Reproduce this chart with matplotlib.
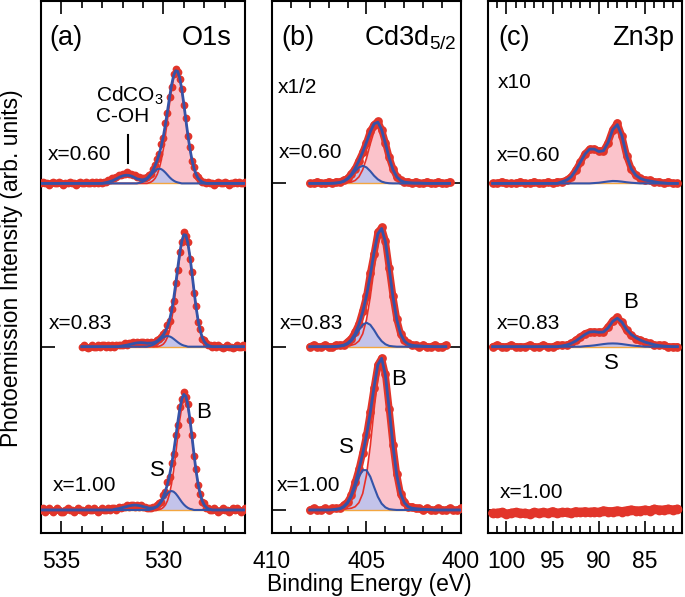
import numpy as np
import matplotlib
matplotlib.use("Agg")
import matplotlib.pyplot as plt
from matplotlib.ticker import MultipleLocator

plt.rcParams['font.family'] = ['Liberation Sans', 'DejaVu Sans']
plt.rcParams['mathtext.fontset'] = 'custom'
plt.rcParams['mathtext.rm'] = 'Liberation Sans'

# energy grids (eV)
E_a = np.round(np.arange(536.0, 525.95, -0.1), 2)
E_b = np.round(np.arange(408.0, 399.95, -0.2), 2)
E_c = np.round(np.arange(101.5, 81.45, -0.5), 2)

# ---- O1s ----
o1s_100 = [0.00, 0.01, -0.01, 0.00, 0.01, 0.00, -0.01, 0.00, 0.01, 0.00,
           -0.01, -0.01, 0.00, 0.01, 0.00, 0.00, -0.01, 0.00, 0.01, 0.00,
           0.00, -0.01, 0.00, 0.01, 0.00, 0.00, 0.01, 0.00, -0.01, 0.00,
           0.01, 0.00, 0.00, 0.01, 0.00, 0.01,
           0.01, 0.00, 0.02, 0.01, 0.02, 0.02, 0.03, 0.02, 0.03, 0.03, 0.02, 0.03, 0.02, 0.03, 0.02, 0.02, 0.01, 0.01,
           0.01, 0.02, 0.02, 0.03, 0.04, 0.05, 0.09, 0.11, 0.17, 0.20, 0.29, 0.34, 0.46, 0.52, 0.63,
           0.68, 0.72, 0.69, 0.65, 0.55, 0.46, 0.33, 0.25, 0.15, 0.10, 0.05, 0.04, 0.01, 0.01, 0.00,
           0.00, 0.01, 0.00, -0.01, 0.00, 0.01, 0.00, 0.00, -0.01, 0.00, 0.01, 0.00, 0.01, 0.00, -0.01, 0.00, 0.01]
o1s_100_B = [0] * 58 + [.003, .007, .016, .031, .057, .099, .160, .241, .340, .447, .549, .630, .674,
                        .674, .630, .549, .447, .340, .241, .160, .099, .057, .031, .016, .007, .003] + [0] * 17
o1s_100_S = [0] * 54 + [.004, .007, .013, .022, .034, .049, .067, .085, .101, .112, .116,
                        .112, .101, .085, .067, .049, .034, .022, .013, .007, .004] + [0] * 26
o1s_100_C = [0] * 36 + [.004, .006, .008, .011, .015, .018, .021, .025, .027, .029, .030,
                        .029, .027, .025, .021, .018, .015, .011, .008, .006, .004] + [0] * 44

o1s_083 = [0.00, 0.01, 0.00, -0.01, 0.00, 0.01, 0.00, 0.00, 0.01, 0.00,
           0.01, 0.01, 0.00, 0.01, 0.00, 0.01, 0.00, 0.01, 0.01,
           0.01, 0.01, 0.02, 0.01, 0.02, 0.02, 0.03, 0.02, 0.03, 0.02,
           0.03, 0.03, 0.02, 0.03, 0.02, 0.03, 0.02, 0.03, 0.04,
           0.05, 0.06, 0.08, 0.09, 0.13, 0.16, 0.23, 0.28, 0.39, 0.47, 0.58, 0.64, 0.70,
           0.68, 0.64, 0.54, 0.46, 0.33, 0.25, 0.15, 0.11, 0.05, 0.04, 0.02, 0.01, 0.01,
           0.00, 0.01, 0.00, 0.01, 0.00, -0.01, 0.00, 0.01, 0.00, 0.00, -0.01, 0.00, 0.01, 0.00, 0.00, 0.01, 0.00]
o1s_083_B = [0] * 58 + [.003, .008, .016, .032, .058, .100, .161, .243, .343, .451, .553, .634, .679,
                        .679, .634, .553, .451, .343, .243, .161, .100, .058, .032, .016, .008, .003] + [0] * 17
o1s_083_S = [0] * 53 + [.004, .007, .012, .019, .028, .038, .048, .057, .063, .065,
                        .063, .057, .048, .038, .028, .019, .012, .007, .004] + [0] * 29
o1s_083_C = [0] * 39 + [.003, .005, .007, .009, .012, .015, .018, .021, .023, .024, .025,
                        .024, .023, .021, .018, .015, .012, .009, .007, .005, .003] + [0] * 41

o1s_060 = [0.00, 0.01, 0.00, 0.00, -0.01, 0.00, 0.01, 0.00, 0.00, 0.01,
           0.00, -0.01, 0.00, 0.00, 0.01, 0.00, 0.00, -0.01, 0.00, 0.01,
           0.00, 0.00, 0.01, 0.00, 0.00, 0.01, 0.00, 0.01, 0.00, 0.01, 0.00,
           0.01, 0.01, 0.02, 0.02, 0.03, 0.03, 0.04, 0.05, 0.05, 0.06, 0.06,
           0.07, 0.06, 0.06, 0.05, 0.05, 0.04, 0.04, 0.03, 0.03, 0.03, 0.04,
           0.05, 0.06, 0.09, 0.11, 0.15, 0.18, 0.24, 0.28, 0.37, 0.43, 0.53, 0.59, 0.67, 0.70,
           0.68, 0.64, 0.58, 0.48, 0.40, 0.29, 0.22, 0.14, 0.10, 0.05, 0.04, 0.02, 0.01, 0.01,
           0.00, 0.01, 0.00, 0.00, -0.01, 0.00, 0.01, 0.00, 0.00, 0.01,
           0.00, -0.01, 0.00, 0.00, 0.01, 0.00, 0.01, 0.00, 0.00, 0.01]
o1s_060_B = [0] * 53 + [.004, .009, .018, .032, .056, .092, .144, .212, .296, .390, .488, .576, .643, .680,
                        .680, .643, .576, .488, .390, .296, .212, .144, .092, .056, .032, .018, .009, .004] + [0] * 20
o1s_060_S = [0] * 48 + [.003, .006, .010, .017, .026, .038, .052, .066, .078, .087, .090,
                        .087, .078, .066, .052, .038, .026, .017, .010, .006, .003] + [0] * 32
o1s_060_C = [0] * 31 + [.003, .005, .008, .012, .016, .022, .028, .035, .041, .046, .049, .050,
                        .049, .046, .041, .035, .028, .022, .016, .012, .008, .005, .003] + [0] * 47

# ---- Cd3d5/2 ----
cd_100 = [0.00, 0.01, 0.00, 0.00, 0.01, 0.00, 0.01, 0.01, 0.01, 0.03, 0.05, 0.09, 0.17, 0.25,
          0.35, 0.46, 0.60, 0.75, 0.89, 0.93, 0.83, 0.62, 0.40, 0.22, 0.10, 0.05, 0.02, 0.02,
          0.01, 0.01, 0.00, 0.01, 0.00, 0.00, 0.01, 0.00, 0.00, 0.01, 0.00, 0.00, 0.01]
cd_100_B = [0] * 6 + [.002, .003, .004, .006, .008, .011, .020, .045, .101, .214, .392, .613, .809, .890,
                      .809, .613, .392, .214, .101, .045, .020, .011, .008, .006, .004, .003, .002] + [0] * 8
cd_100_S = [0] * 7 + [.002, .005, .016, .039, .081, .141, .204, .244,
                      .244, .204, .141, .081, .039, .016, .005, .002] + [0] * 18

cd_083 = [0.00, 0.01, 0.00, 0.00, 0.01, 0.00, 0.00, 0.01, 0.01, 0.01, 0.03, 0.05, 0.09, 0.14,
          0.22, 0.31, 0.45, 0.57, 0.70, 0.73, 0.65, 0.48, 0.31, 0.17, 0.08, 0.04, 0.02, 0.01,
          0.01, 0.00, 0.01, 0.00, 0.00, 0.01, 0.00, 0.00, 0.01]
cd_083_B = [0] * 6 + [.001, .002, .003, .005, .006, .009, .016, .035, .079, .166, .304, .475, .627, .690,
                      .627, .475, .304, .166, .079, .035, .016, .009, .006, .005, .003, .002, .001] + [0] * 8
cd_083_S = [0] * 8 + [.002, .005, .015, .034, .064, .102, .134, .147,
                      .134, .102, .064, .034, .015, .005, .002] + [0] * 18

cd_060 = [0.00, 0.00, 0.01, 0.00, 0.00, 0.01, 0.00, 0.01, 0.01, 0.02, 0.03, 0.06, 0.09, 0.14,
          0.19, 0.25, 0.32, 0.36, 0.38, 0.33, 0.25, 0.16, 0.09, 0.04, 0.02, 0.01, 0.01, 0.00,
          0.01, 0.00, 0.00, 0.01, 0.00, 0.00, 0.01, 0.00, 0.00, 0.01]
cd_060_B = [0] * 6 + [.001, .002, .002, .003, .005, .008, .018, .040, .084, .154, .241, .318, .350,
                      .318, .241, .154, .084, .040, .018, .008, .005, .003, .002, .002, .001] + [0] * 10
cd_060_S = [0] * 7 + [.001, .004, .011, .025, .047, .075, .098, .108,
                      .098, .075, .047, .025, .011, .004, .001] + [0] * 19

# ---- Zn3p ----
zn_100 = [-0.02, -0.02, -0.015, -0.025, -0.02, -0.015, -0.02, -0.02, -0.025, -0.015,
          -0.02, -0.015, -0.02, -0.01, -0.02, -0.015, -0.015, -0.02, -0.01, -0.015,
          -0.01, -0.015, -0.01, -0.015, -0.005, -0.01, -0.01, -0.005, -0.01, -0.005,
          0.0, -0.005, -0.005, 0.0, -0.005, 0.005, 0.0, 0.0, 0.005, 0.0, 0.005]

zn_083 = [0.00, 0.01, 0.00, 0.00, 0.01, 0.00, 0.00, 0.00, 0.01, 0.00, 0.00, 0.01, 0.00, 0.00, 0.01,
          0.01, 0.01, 0.02, 0.04, 0.06, 0.08, 0.09, 0.09, 0.09, 0.09, 0.12, 0.16, 0.18, 0.15,
          0.10, 0.07, 0.05, 0.04, 0.03, 0.02, 0.01, 0.01, 0.01, 0.00, 0.00, 0.00]
zn_083_B = [0] * 15 + [.005, .01, .02, .035, .055, .072, .085, .084, .076, .074, .096, .135, .155,
                       .134, .093, .067, .050, .037, .028, .02, .012, .007, .004, .002] + [0] * 2
zn_083_S = [0] * 20 + [.003, .005, .008, .012, .016, .019, .020, .019, .016, .012, .008, .005, .003] + [0] * 8

zn_060 = [0.00, 0.00, 0.01, 0.00, 0.00, 0.00, 0.01, 0.00, 0.00, 0.01, 0.00, 0.00, 0.01, 0.00, 0.01,
          0.01, 0.02, 0.04, 0.08, 0.13, 0.18, 0.21, 0.21, 0.20, 0.20, 0.25, 0.33, 0.37, 0.29,
          0.17, 0.09, 0.05, 0.03, 0.02, 0.02, 0.01, 0.01, 0.00, 0.01, 0.00, 0.00]
zn_060_B = [0] * 15 + [.01, .02, .04, .08, .13, .18, .21, .208, .191, .192, .238, .315, .346,
                       .279, .163, .086, .048, .03, .02, .015, .01, .005, .003] + [0] * 3
zn_060_S = [0] * 22 + [.002, .004, .008, .012, .015, .014, .011, .007, .004, .002] + [0] * 9

red = '#e2352a'
blue = '#3553a8'
pink = '#fbc3cb'
lav = '#c3c3ea'
orange = '#f3a640'


def spectrum(ax, E, off, data, start=0, B=None, S=None, C=None, band=None, ms=5.6):
    n = len(data)
    x = E[start:start + n]
    y = off + np.asarray(data)
    if B is not None:
        b = np.asarray(B, float)[start:start + n]
        s = np.asarray(S, float)[start:start + n]
        c = np.zeros(n) if C is None else np.asarray(C, float)[start:start + n]
        ax.fill_between(x, off, off + b, color=pink, lw=0, zorder=1)
        ax.fill_between(x, off, off + s, color=lav, lw=0, zorder=1.5)
        ax.plot(x, np.full(n, off), color=orange, lw=1, zorder=2)
        ax.plot(x, off + b, color='#e8302a', lw=1.2, zorder=2.5)
    if band:
        # dense data: points overlap into a thick band
        ax.plot(x, y, '-', color=red, lw=band, solid_capstyle='round', zorder=3)
    ax.plot(x, y, 'o', ms=ms, color=red, mew=0, zorder=3)
    if B is not None:
        ax.plot(x, off + b + s + c, color=blue, lw=2, zorder=4)
        ax.plot(x, off + s, color=blue, lw=1.5, zorder=4)


fig = plt.figure(figsize=(6.85, 5.97), dpi=100)
W, H = 685, 597
ax_a = fig.add_axes([41 / W, 1 - 533 / H, 204 / W, 532 / H])
ax_b = fig.add_axes([272 / W, 1 - 533 / H, 189 / W, 532 / H])
ax_c = fig.add_axes([488 / W, 1 - 533 / H, 194 / W, 532 / H])

spectrum(ax_a, E_a, 0, o1s_100, 0, o1s_100_B, o1s_100_S, o1s_100_C)
spectrum(ax_a, E_a, 1, o1s_083, 20, o1s_083_B, o1s_083_S, o1s_083_C)
spectrum(ax_a, E_a, 2, o1s_060, 0, o1s_060_B, o1s_060_S, o1s_060_C)

spectrum(ax_b, E_b, 0, cd_100, 0, cd_100_B, cd_100_S, band=5, ms=6.3)
spectrum(ax_b, E_b, 1, cd_083, 0, cd_083_B, cd_083_S, band=5, ms=6.3)
spectrum(ax_b, E_b, 2, cd_060, 0, cd_060_B, cd_060_S, band=5, ms=6.3)

spectrum(ax_c, E_c, 0, zn_100, band=6.5, ms=7)
spectrum(ax_c, E_c, 1, zn_083, 0, zn_083_B, zn_083_S, band=5, ms=6.3)
spectrum(ax_c, E_c, 2, zn_060, 0, zn_060_B, zn_060_S, band=5, ms=6.3)

ax_a.set_xlim(536, 526)
ax_b.set_xlim(410, 400)
ax_c.set_xlim(102, 81)

for ax in (ax_a, ax_b, ax_c):
    ax.set_ylim(-0.141, 3.117)
    ax.xaxis.set_major_locator(MultipleLocator(5))
    ax.xaxis.set_minor_locator(MultipleLocator(1))
    ax.set_yticks([0, 1, 2])
    ax.tick_params(axis='x', which='major', direction='in', length=9, width=1.2,
                   top=True, bottom=True, labelsize=16.5, pad=12)
    ax.tick_params(axis='x', which='minor', direction='in', length=5, width=1.2,
                   top=True, bottom=True)
    ax.tick_params(axis='y', direction='in', length=10, width=1.2,
                   left=True, right=True, labelleft=False)
    for sp in ax.spines.values():
        sp.set_linewidth(1.5)

# panel titles
ax_a.text(0.04, 0.93, '(a)', transform=ax_a.transAxes, fontsize=19.5, va='center')
ax_a.text(0.936, 0.93, 'O1s', transform=ax_a.transAxes, fontsize=19.5, va='center', ha='right')
ax_b.text(0.048, 0.93, '(b)', transform=ax_b.transAxes, fontsize=19.5, va='center')
ax_b.text(0.974, 0.93, 'Cd3d$_{5/2}$', transform=ax_b.transAxes, fontsize=19.5, va='center', ha='right')
ax_c.text(0.052, 0.93, '(c)', transform=ax_c.transAxes, fontsize=19.5, va='center')
ax_c.text(0.959, 0.93, 'Zn3p', transform=ax_c.transAxes, fontsize=19.5, va='center', ha='right')

ax_b.text(0.032, 0.838, 'x1/2', transform=ax_b.transAxes, fontsize=15, va='center')
ax_c.text(0.052, 0.846, 'x10', transform=ax_c.transAxes, fontsize=15, va='center')

# composition labels
labels = ['x=0.60', 'x=0.83', 'x=1.00']
label_pos = {
    ax_a: [(0.034, 2.18), (0.04, 1.14), (0.06, 0.147)],
    ax_b: [(0.037, 2.19), (0.042, 1.14), (0.026, 0.147)],
    ax_c: [(0.046, 2.17), (0.046, 1.14), (0.062, 0.11)],
}
for ax, pos in label_pos.items():
    for lab, (px, py) in zip(labels, pos):
        ax.text(px, py, lab, transform=ax.get_yaxis_transform(), fontsize=15, va='center')

# peak annotations
ax_a.text(533.3, 2.54, 'CdCO$_3$', fontsize=15, va='center')
ax_a.text(533.3, 2.41, 'C-OH', fontsize=15, va='center')
ax_a.plot([531.72, 531.72], [2.125, 2.296], color='black', lw=1.5)
ax_a.text(530.31, 0.24, 'S', fontsize=16, ha='center', va='center')
ax_a.text(528.02, 0.60, 'B', fontsize=16, ha='center', va='center')
ax_b.text(406.06, 0.38, 'S', fontsize=16, ha='center', va='center')
ax_b.text(403.3, 0.80, 'B', fontsize=16, ha='center', va='center')
ax_c.text(86.6, 1.27, 'B', fontsize=16, ha='center', va='center')
ax_c.text(88.6, 0.90, 'S', fontsize=16, ha='center', va='center')

fig.text(369 / W, 1 - 585 / H, 'Binding Energy (eV)', fontsize=16.5, ha='center', va='center')
fig.text(12 / W, 1 - 268 / H, 'Photoemission Intensity (arb. units)', fontsize=16.5,
         ha='center', va='center', rotation=90)

fig.savefig('out.png', dpi=100)
